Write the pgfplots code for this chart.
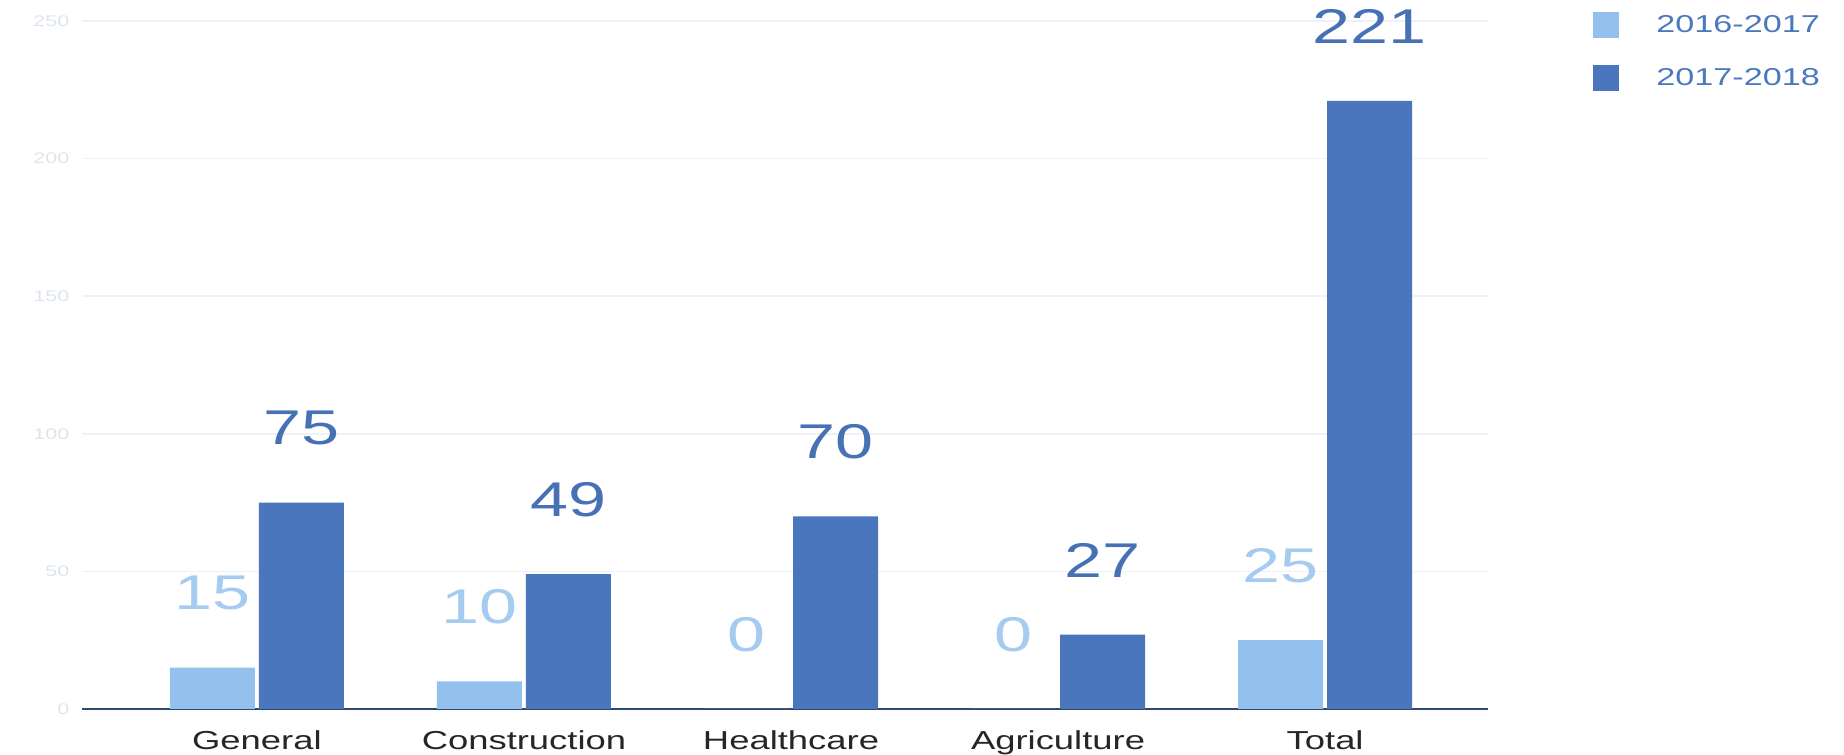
\documentclass[border=0pt]{standalone}
\usepackage{pgfplots}
\pgfplotsset{compat=1.18}
\usepackage{fontspec}
\setmainfont{Liberation Sans}[FakeStretch=1.4]
\definecolor{lightbar}{HTML}{93C0EC}
\definecolor{darkbar}{HTML}{4A76BD}
\definecolor{lightlab}{HTML}{A6CBF0}
\definecolor{darklab}{HTML}{4671B5}
\definecolor{gridc}{HTML}{EEF2F6}
\definecolor{ytick}{HTML}{DCE5EE}
\definecolor{axisc}{HTML}{2E4A6E}
\definecolor{legtext}{HTML}{4A78BE}
\begin{document}
\begin{tikzpicture}
\begin{axis}[
  at={(0pt,0pt)}, anchor=south west,
  scale only axis, width=703pt, height=344pt,
  xmin=-0.655, xmax=4.61, ymin=0, ymax=250,
  ytick={0,50,...,250},
  xtick={0,1,2,3,4},
  xticklabels={General,Construction,Healthcare,Agriculture,Total},
  axis x line=bottom, axis y line=left,
  x axis line style={-, draw=axisc, line width=1.2pt},
  y axis line style={draw=none},
  major tick style={draw=none},
  ymajorgrids, grid style={gridc, line width=0.8pt},
  /pgf/number format/assume math mode=true,
  yticklabel style={font=\fontsize{7.7}{9}\selectfont, text=ytick, anchor=east, inner sep=0pt, xshift=-4pt},
  xticklabel style={font=\fontsize{13}{15}\selectfont, text=black!85, anchor=north, inner sep=0pt, yshift=-6.5pt},
  clip=false,
  ybar, bar width=42.5pt,
  nodes near coords,
  every node near coord/.append style={anchor=center, yshift=37.2pt, font=\fontsize{24.4}{28}\selectfont},
  legend style={draw=none, fill=none, at={(1.0747,1.0131)}, anchor=north west, inner sep=0pt,
    row sep=13.5pt, column sep=18.5pt, font=\fontsize{12.2}{14}\selectfont, text=legtext,
    cells={anchor=west}, nodes={inner sep=0pt}},
  legend image code/.code={\fill[#1] (0pt,-6.5pt) rectangle (13pt,6.5pt);},
]
\addplot[fill=lightbar, draw=none, bar shift=-22.25pt, every node near coord/.append style={text=lightlab}]
  coordinates {(0,15) (1,10) (2,0) (3,0) (4,25)};
\addlegendentry{2016-2017}
\addplot[fill=darkbar, draw=none, bar shift=22.25pt, every node near coord/.append style={text=darklab}]
  coordinates {(0,75) (1,49) (2,70) (3,27) (4,221)};
\addlegendentry{2017-2018}
\end{axis}
\pgfresetboundingbox
\path[use as bounding box] (-41pt,-23pt) rectangle (881pt,354.5pt);
\end{tikzpicture}
\end{document}
